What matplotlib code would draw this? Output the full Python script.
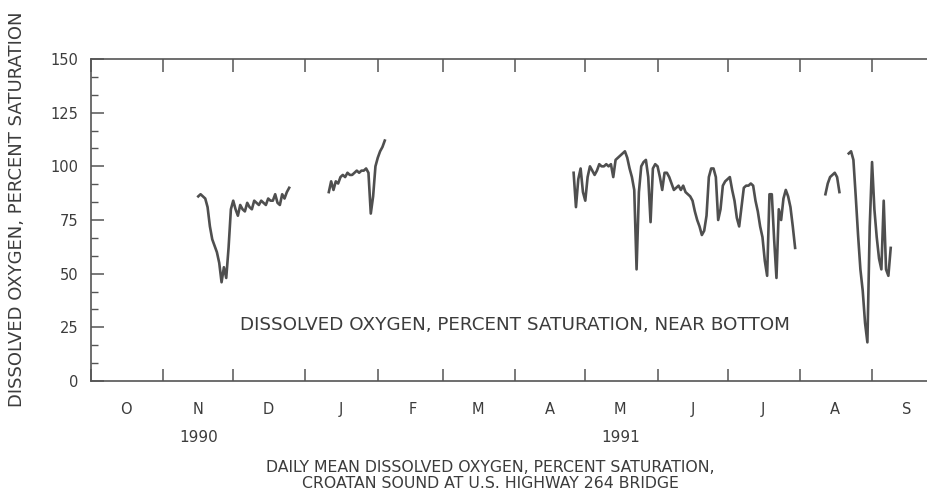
import matplotlib
matplotlib.use("Agg")
import matplotlib.pyplot as plt
import matplotlib.dates as mdates
import matplotlib.ticker as mticker
import matplotlib.transforms as mtransforms
import numpy as np
import pandas as pd

# ============================================================
# === Daily mean dissolved oxygen, percent saturation (near bottom)
# ============================================================

seg1_start = "1990-11-16"
seg1_values = [86, 87, 86, 85, 81, 72, 66, 63, 60, 55, 46, 53, 48, 62, 80,
               84, 80, 77, 82, 80, 79, 83, 81, 80, 84, 83, 82, 84, 83, 82,
               85, 84, 84, 87, 83, 82, 87, 85, 88, 90]

seg2_start = "1991-01-11"
seg2_values = [88, 93, 89, 93, 92, 95, 96, 95, 97, 96, 96, 97, 98, 97, 98,
               98, 99, 97, 78, 86, 100, 104, 107, 109, 112]

seg3_start = "1991-04-26"
seg3_values = [97, 81, 94, 99, 88, 84, 95, 100, 98, 96, 98, 101, 100, 100, 101,
               100, 101, 95, 103, 104, 105, 106, 107, 104, 99, 95, 89, 52, 88, 100,
               102, 103, 95, 74, 99, 101, 100, 95, 89, 97, 97, 95, 92, 89, 90,
               91, 89, 91, 88, 87, 86, 84, 79, 75, 72, 68, 70, 77, 95, 99,
               99, 95, 75, 80, 91, 93, 94, 95, 89, 84, 76, 72, 81, 90, 91,
               91, 92, 91, 84, 79, 72, 67, 56, 49, 87, 87, 66, 48, 80, 75,
               85, 89, 86, 81, 72, 62]

seg4_start = "1991-08-12"
seg4_values = [87, 92, 95, 96, 97, 95, 88]

seg5_start = "1991-08-22"
seg5_values = [106, 107, 103, 86, 68, 52, 42, 27, 18, 72, 102, 80, 67, 57, 52,
               84, 52, 49, 62]

segments = [
    (seg1_start, seg1_values),
    (seg2_start, seg2_values),
    (seg3_start, seg3_values),
    (seg4_start, seg4_values),
    (seg5_start, seg5_values),
]

y_ticks = [0, 25, 50, 75, 100, 125, 150]
year_labels = [("1990-11-16", "1990"), ("1991-05-16", "1991")]

INK = "#3c3c3c"
LINE = "#4f4f4f"

# ============================================================
# === Figure
# ============================================================

plt.rcParams["font.family"] = ["DejaVu Sans"]

fig = plt.figure(figsize=(9.27, 5.03), dpi=100)
fig.patch.set_facecolor("white")
ax = fig.add_axes([91 / 927, 1 - 381 / 503, 851 / 927, 322 / 503])

for start, values in segments:
    dates = pd.date_range(start, periods=len(values), freq="D")
    ax.plot(dates, values, color=LINE, linewidth=1.9, solid_joinstyle="round")

ax.set_xlim(pd.Timestamp("1990-10-01"), pd.Timestamp("1991-10-01"))
ax.set_ylim(0, 150)

for side in ["left", "bottom", "top", "right"]:
    ax.spines[side].set_color("#555555")
    ax.spines[side].set_linewidth(1.2)

# x axis: month boundaries as ticks, month initials centred in the month
ax.xaxis.set_major_locator(mdates.MonthLocator())
ax.xaxis.set_major_formatter(mticker.NullFormatter())
ax.xaxis.set_minor_locator(mdates.MonthLocator(bymonthday=16))
ax.xaxis.set_minor_formatter(
    mticker.FuncFormatter(lambda x, pos: mdates.num2date(x).strftime("%b")[0]))
ax.tick_params(axis="x", which="major", direction="in", length=9, width=1.1,
               color="#555555", top=True, bottom=True)
ax.tick_params(axis="x", which="minor", length=0, pad=15, labelsize=10.5,
               labelcolor=INK)

# y axis
ax.set_yticks(y_ticks)
ax.yaxis.set_minor_locator(mticker.AutoMinorLocator(3))
ax.tick_params(axis="y", which="major", direction="in", length=9.5, width=1.1,
               color="#555555", labelsize=10.5, labelcolor=INK, pad=9,
               right=False)
ax.tick_params(axis="y", which="minor", direction="in", length=5, width=1.0,
               color="#555555", right=False)

# year labels under the month row
trans = mtransforms.blended_transform_factory(ax.transData, ax.transAxes)
for d, txt in year_labels:
    ax.text(pd.Timestamp(d), -0.174, txt, transform=trans, ha="center",
            va="center", fontsize=11, color=INK)

ax.text(0.498, 0.174, "DISSOLVED OXYGEN, PERCENT SATURATION, NEAR BOTTOM",
        transform=ax.transAxes, ha="center", va="center", fontsize=13.2,
        color=INK)

fig.text(17 / 927, 1 - 209 / 503, "DISSOLVED OXYGEN, PERCENT SATURATION",
         rotation=90, ha="center", va="center", fontsize=13, color=INK)

fig.text(490 / 927, 1 - 468 / 503,
         "DAILY MEAN DISSOLVED OXYGEN, PERCENT SATURATION,",
         ha="center", va="center", fontsize=11.3, color=INK)
fig.text(490 / 927, 1 - 484 / 503,
         "CROATAN SOUND AT U.S. HIGHWAY 264 BRIDGE",
         ha="center", va="center", fontsize=11.3, color=INK)

fig.savefig("out.png", dpi=100, facecolor="white")
